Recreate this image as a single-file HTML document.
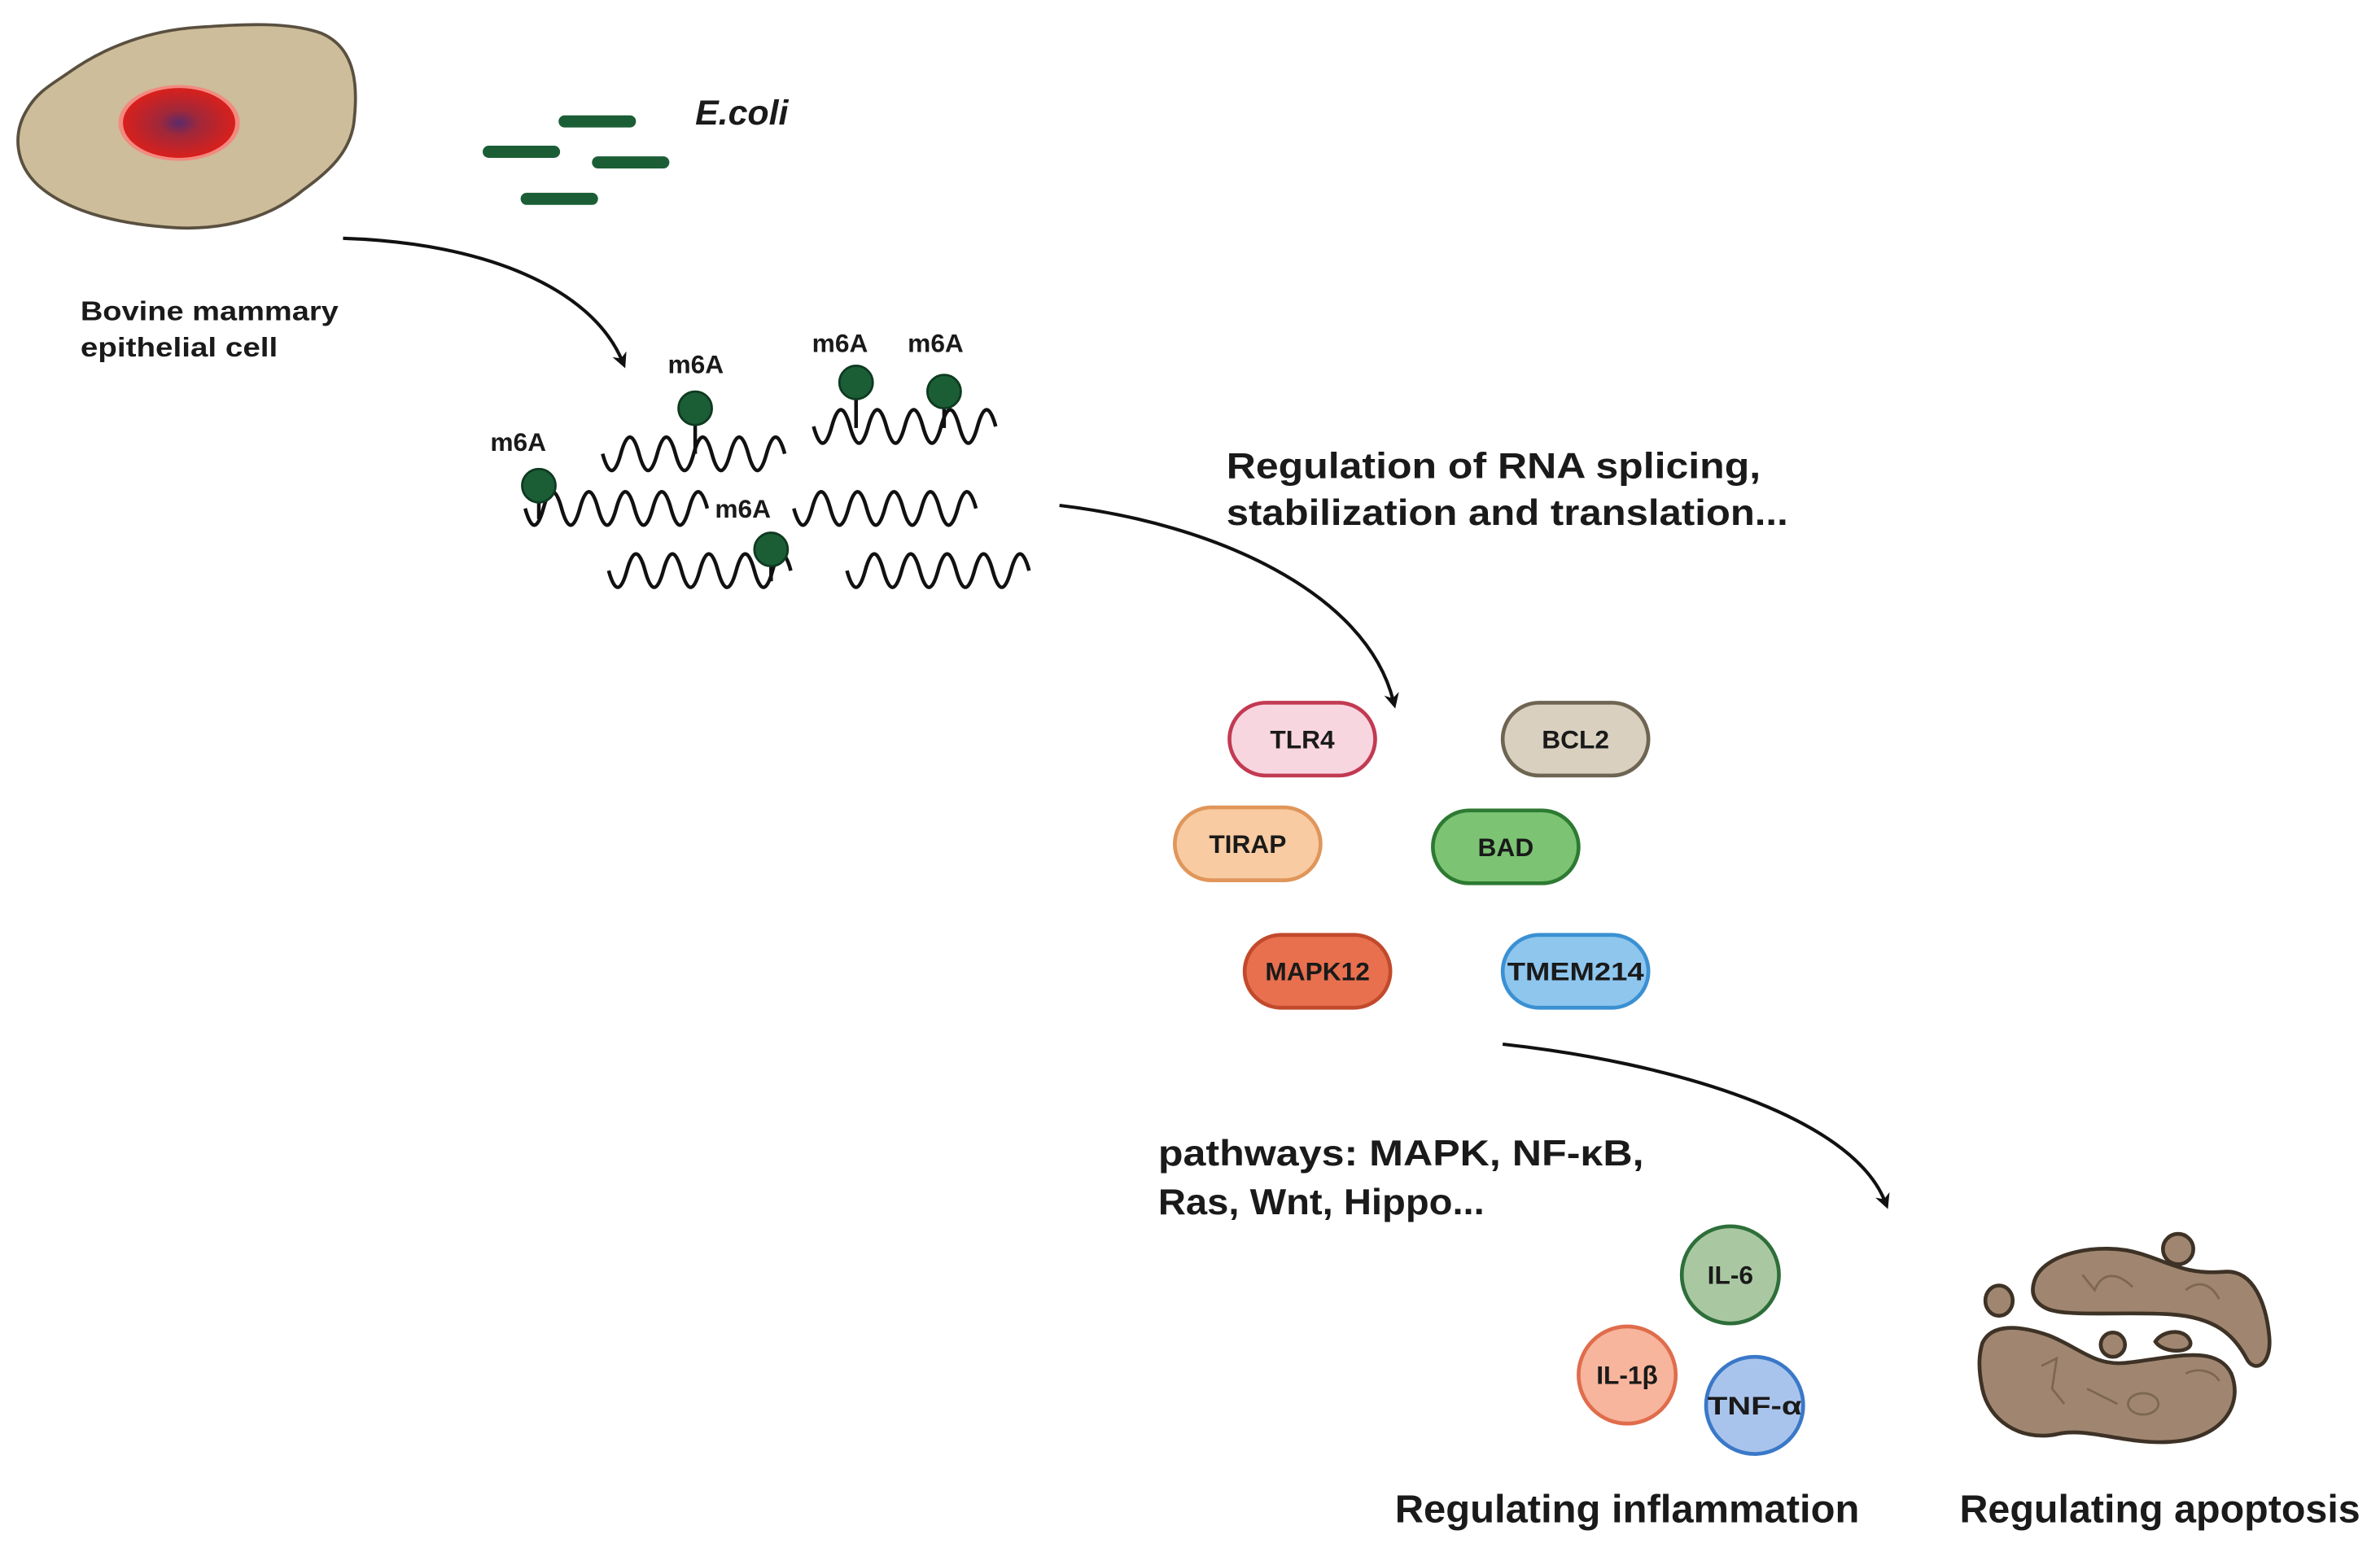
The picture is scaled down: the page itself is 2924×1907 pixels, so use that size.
<!DOCTYPE html>
<html><head><meta charset="utf-8"><style>
html,body{margin:0;padding:0;background:#fff;}
svg{display:block;}
text{font-family:"Liberation Sans",Arial,sans-serif;font-weight:bold;fill:#1a1a1a;}
</style></head><body>
<svg width="2924" height="1907" viewBox="0 0 1568 1022.6" preserveAspectRatio="none" xmlns="http://www.w3.org/2000/svg">
<defs>
<radialGradient id="nuc" cx="0.5" cy="0.5" r="0.5">
<stop offset="0" stop-color="#5a2a6a"/><stop offset="0.35" stop-color="#a0283a"/><stop offset="1" stop-color="#d8201c"/>
</radialGradient>
<marker id="ah" markerWidth="10" markerHeight="10" refX="5" refY="5" orient="auto" markerUnits="userSpaceOnUse">
<path d="M0,0 L10,5 L0,10 L3,5 Z" fill="#111"/>
</marker>
</defs>
<rect width="1568" height="1023" fill="#fff"/>
<path d="M45,48 C70,30 100,20 130,18 C160,16 190,14 212,22 C235,32 236,58 233,82 C230,100 218,112 200,125 C180,142 150,152 115,150 C80,148 45,140 25,122 C10,108 8,88 18,72 C25,60 35,55 45,48 Z" fill="#cdbd9a" stroke="#5a5040" stroke-width="2"/>
<ellipse cx="118" cy="81" rx="40" ry="25" fill="#f28a80"/>
<ellipse cx="118" cy="81" rx="37" ry="23" fill="url(#nuc)"/>
<g stroke="#1b5e36" stroke-width="8" stroke-linecap="round">
<line x1="372" y1="80" x2="415" y2="80"/>
<line x1="322" y1="100" x2="365" y2="100"/>
<line x1="394" y1="107" x2="437" y2="107"/>
<line x1="347" y1="131" x2="390" y2="131"/>
</g>
<text x="458" y="82" font-size="23" font-style="italic">E.coli</text>
<text x="53" y="211" font-size="18" textLength="170" lengthAdjust="spacingAndGlyphs">Bovine mammary</text>
<text x="53" y="235" font-size="18" textLength="130" lengthAdjust="spacingAndGlyphs">epithelial cell</text>
<g fill="none" stroke="#111" stroke-width="2.2">
<path d="M226,157 C320,160 390,190 410,238" marker-end="url(#ah)"/>
<path d="M698,333 C800,345 900,390 918,462" marker-end="url(#ah)"/>
<path d="M990,688 C1100,700 1220,735 1242,792" marker-end="url(#ah)"/>
</g>
<g fill="none" stroke="#111" stroke-width="2.4">
<path d="M397,299 q6,22 12,0 t12,0 t12,0 t12,0 t12,0 t12,0 t12,0 t12,0 t12,0 t12,0"/>
<path d="M536,281 q6,22 12,0 t12,0 t12,0 t12,0 t12,0 t12,0 t12,0 t12,0 t12,0 t12,0"/>
<path d="M346,335 q6,22 12,0 t12,0 t12,0 t12,0 t12,0 t12,0 t12,0 t12,0 t12,0 t12,0"/>
<path d="M523,335 q6,22 12,0 t12,0 t12,0 t12,0 t12,0 t12,0 t12,0 t12,0 t12,0 t12,0"/>
<path d="M401,376 q6,22 12,0 t12,0 t12,0 t12,0 t12,0 t12,0 t12,0 t12,0 t12,0 t12,0"/>
<path d="M558,376 q6,22 12,0 t12,0 t12,0 t12,0 t12,0 t12,0 t12,0 t12,0 t12,0 t12,0"/>
<line x1="458" y1="280" x2="458" y2="299"/>
<line x1="564" y1="262" x2="564" y2="282"/>
<line x1="622" y1="268" x2="622" y2="282"/>
<line x1="355" y1="330" x2="355" y2="342"/>
<line x1="508" y1="372" x2="508" y2="383"/>
</g>
<g fill="#1b5e36" stroke="#0e3a20" stroke-width="1.5">
<circle cx="458" cy="269" r="11"/>
<circle cx="564" cy="252" r="11"/>
<circle cx="622" cy="258" r="11"/>
<circle cx="355" cy="320" r="11"/>
<circle cx="508" cy="362" r="11"/>
</g>
<g font-size="17">
<text x="440" y="246">m6A</text>
<text x="535" y="232">m6A</text>
<text x="598" y="232">m6A</text>
<text x="323" y="297">m6A</text>
<text x="471" y="341">m6A</text>
</g>
<text x="808" y="315" font-size="24" textLength="352" lengthAdjust="spacingAndGlyphs">Regulation of RNA splicing,</text>
<text x="808" y="346" font-size="24" textLength="370" lengthAdjust="spacingAndGlyphs">stabilization and translation...</text>
<g stroke-width="2.5">
<rect x="810" y="463" width="96" height="48" rx="24" fill="#f8d6e0" stroke="#c23a52"/>
<rect x="990" y="463" width="96" height="48" rx="24" fill="#d9d0c0" stroke="#6e6452"/>
<rect x="774" y="532" width="96" height="48" rx="24" fill="#f8cba2" stroke="#e0965a"/>
<rect x="944" y="534" width="96" height="48" rx="24" fill="#7cc473" stroke="#2d7a32"/>
<rect x="820" y="616" width="96" height="48" rx="24" fill="#e8704f" stroke="#c24a2c"/>
<rect x="990" y="616" width="96" height="48" rx="24" fill="#8ec6ee" stroke="#3a90d2"/>
</g>
<g font-size="17" text-anchor="middle">
<text x="858" y="493">TLR4</text>
<text x="1038" y="493">BCL2</text>
<text x="822" y="562">TIRAP</text>
<text x="992" y="564">BAD</text>
<text x="868" y="646">MAPK12</text>
<text x="1038" y="646" textLength="90" lengthAdjust="spacingAndGlyphs">TMEM214</text>
</g>
<text x="763" y="768" font-size="24" textLength="320" lengthAdjust="spacingAndGlyphs">pathways: MAPK, NF-κB,</text>
<text x="763" y="800" font-size="24" textLength="215" lengthAdjust="spacingAndGlyphs">Ras, Wnt, Hippo...</text>
<g stroke-width="2.5">
<circle cx="1140" cy="840" r="32" fill="#a9c8a2" stroke="#2e6e3a"/>
<circle cx="1072" cy="906" r="32" fill="#f6b59c" stroke="#e06c4c"/>
<circle cx="1156" cy="926" r="32" fill="#a9c4ec" stroke="#3a78c8"/>
</g>
<g font-size="17" text-anchor="middle">
<text x="1140" y="846">IL-6</text>
<text x="1072" y="912">IL-1β</text>
<text x="1156" y="932" textLength="62" lengthAdjust="spacingAndGlyphs">TNF-α</text>
</g>
<g fill="#a08670" stroke="#3e3226" stroke-width="2.5">
<path d="M1340,845 C1345,825 1385,818 1410,826 C1430,832 1440,840 1465,838 C1485,836 1493,860 1495,880 C1497,900 1485,905 1480,895 C1472,880 1460,868 1430,866 C1400,864 1360,868 1348,862 C1340,858 1338,852 1340,845 Z"/>
<path d="M1306,885 C1312,872 1330,873 1350,880 C1370,888 1380,900 1400,898 C1430,895 1460,885 1470,905 C1478,925 1465,948 1430,950 C1400,952 1375,940 1355,945 C1330,950 1310,935 1306,915 C1303,900 1304,892 1306,885 Z"/>
<ellipse cx="1317" cy="857" rx="9" ry="10"/>
<ellipse cx="1435" cy="823" rx="10" ry="10"/>
<circle cx="1392" cy="886" r="8"/>
<path d="M1420,884 C1425,876 1440,875 1443,884 C1445,892 1425,892 1420,884 Z"/>
</g>
<g fill="none" stroke="#6e5a48" stroke-width="1.5" opacity="0.7">
<path d="M1372,840 L1380,850 C1385,838 1395,838 1405,848"/>
<path d="M1440,850 C1450,842 1458,848 1462,856"/>
<path d="M1345,900 L1355,895 L1352,915 L1360,925"/>
<path d="M1375,915 L1395,925"/>
<path d="M1440,905 C1450,900 1460,905 1462,910"/>
<ellipse cx="1412" cy="925" rx="10" ry="7"/>
</g>
<text x="1072" y="1003" font-size="26" text-anchor="middle" textLength="306" lengthAdjust="spacingAndGlyphs">Regulating inflammation</text>
<text x="1423" y="1003" font-size="26" text-anchor="middle" textLength="264" lengthAdjust="spacingAndGlyphs">Regulating apoptosis</text>
</svg>
</body></html>
